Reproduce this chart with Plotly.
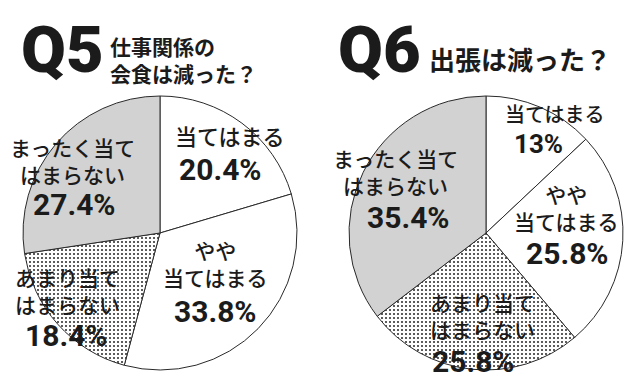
import plotly.graph_objects as go

# ---- data ----
categories = ["当てはまる", "やや当てはまる", "あまり当てはまらない", "まったく当てはまらない"]
label_lines = [["当てはまる"], ["やや", "当てはまる"], ["あまり当て", "はまらない"], ["まったく当て", "はまらない"]]
q5_values = [20.4, 33.8, 18.4, 27.4]
q6_values = [13, 25.8, 25.8, 35.4]
q5_title = ["仕事関係の", "会食は減った？"]
q6_title = ["出張は減った？"]

# the page body has an 8px margin, so the figure fills the rest of the window
OFF = 8
W, H = 640 - OFF, 388 - OFF
fills = ["white", "white", "white", "#d2d2d2"]
patterns = ["", "", ".", ""]

def px(x):
    return (x - OFF) / W

def py(y):
    return 1 - (y - OFF) / H

def make_pie(values, cx, cy, r, name):
    return go.Pie(
        labels=categories, values=values, sort=False, direction="clockwise",
        rotation=0, textinfo="none", hoverinfo="label+percent", name=name,
        domain=dict(x=[px(cx - r), px(cx + r)], y=[py(cy + r), py(cy - r)]),
        marker=dict(colors=fills, line=dict(color="#2a2a2a", width=1),
                    pattern=dict(shape=patterns, fgcolor="#333333", bgcolor="white",
                                 size=4, solidity=0.22)),
        showlegend=False,
    )

fig = go.Figure()
fig.add_trace(make_pie(q5_values, 160, 233, 137, "Q5"))
fig.add_trace(make_pie(q6_values, 486, 233, 137, "Q6"))

JP = "Noto Sans CJK JP"
NUM = "Roboto"
ink = "#1b1b1b"
ann = []

def text(s, x, y, size, family=JP, weight=700, xanchor="center", align="center"):
    ann.append(dict(text=s, x=px(x), y=py(y), xref="paper", yref="paper",
                    xanchor=xanchor, yanchor="middle", showarrow=False, align=align,
                    font=dict(family=family, size=size, color=ink, weight=weight)))

# per slice: label block centre, percent centre (pixels), label size, percent size
q5_pos = [((230, 135), (220, 169), 22, 30),
          ((215, 263), (215, 311), 21, 30),
          ((67, 290), (66, 335), 21, 30),
          ((72, 160), (74, 205), 21, 30)]
q6_pos = [((555, 113), (538, 144), 20, 26),
          ((566, 207), (567, 253), 21, 30),
          ((482, 315), (473, 361), 21, 30),
          ((395, 171), (408, 217), 21, 30)]

for values, pos in ((q5_values, q5_pos), (q6_values, q6_pos)):
    for lines, v, (lab_xy, pct_xy, fs, ps) in zip(label_lines, values, pos):
        text("<br>".join(lines), lab_xy[0], lab_xy[1], fs, weight=500)
        text(f"{v:g}%", pct_xy[0], pct_xy[1], ps, family=NUM, weight=700)

# titles
text("Q5", 62, 50, 65, family=NUM, weight=900)
text("Q6", 379, 50, 65, family=NUM, weight=900)
text("<br>".join(q5_title), 108, 60, 21, xanchor="left", align="left")
text(q6_title[0], 427, 59, 26, xanchor="left", align="left")

fig.update_layout(
    width=W, height=H, margin=dict(l=0, r=0, t=0, b=0),
    paper_bgcolor="white", plot_bgcolor="white", annotations=ann,
)
fig.write_html("out.html")
